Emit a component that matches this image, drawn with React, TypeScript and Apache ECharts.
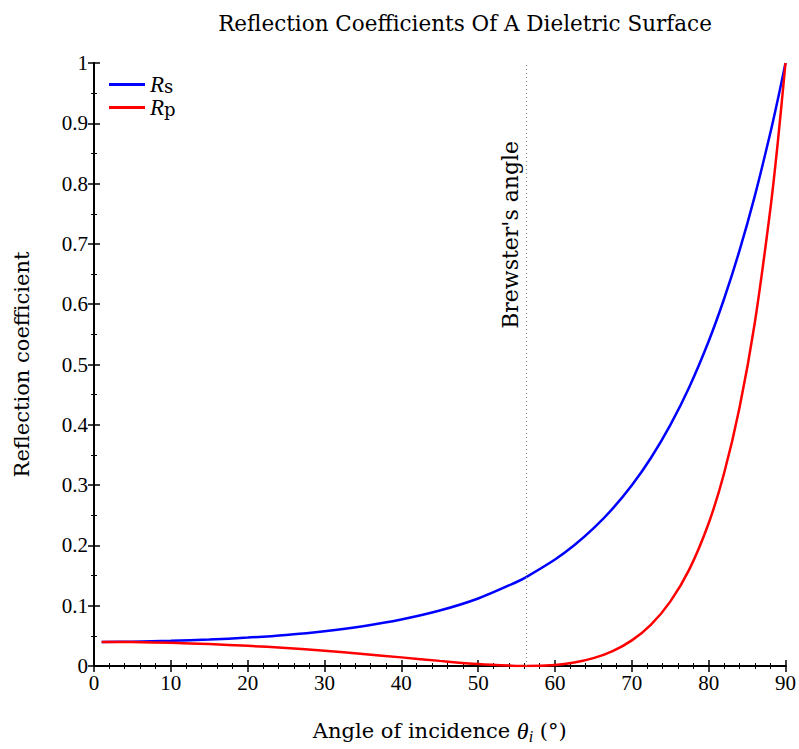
import React, { useEffect, useRef } from "react";
import * as echarts from "echarts";

const angles = [1, 5, 10, 15, 20, 25, 30, 35, 40, 45, 50, 55, 56.31, 60, 62.5, 65, 67.5, 70, 72.5, 75, 77.5, 80, 82, 84, 86, 88, 89, 90];
const rsValues = [0.04, 0.0404, 0.0417, 0.0438, 0.0471, 0.0516, 0.0578, 0.0661, 0.0772, 0.092, 0.112, 0.1393, 0.1479, 0.1766, 0.2002, 0.2281, 0.2609, 0.2996, 0.3453, 0.3994, 0.4632, 0.5386, 0.6086, 0.6884, 0.7793, 0.8826, 0.9395, 1.0];
const rpValues = [0.04, 0.0396, 0.0384, 0.0363, 0.0335, 0.0298, 0.0253, 0.02, 0.0143, 0.0085, 0.0033, 0.0002, 0.0, 0.0018, 0.0058, 0.013, 0.0247, 0.0425, 0.0688, 0.1068, 0.1607, 0.2368, 0.3193, 0.4273, 0.5688, 0.7548, 0.8689, 1.0];
const brewsterAngle = 56.31;
const xTicks = { min: 0, max: 90, interval: 10 };
const yTicks = { min: 0, max: 1, interval: 0.1 };

const serif = "DejaVu Serif";
const numFont = "Liberation Serif";

export default function App() {
  const ref = useRef<HTMLDivElement>(null);
  useEffect(() => {
    if (!ref.current) return;
    const chart = echarts.init(ref.current, null, { renderer: "svg" });
    const rs = angles.map((a, i) => [a, rsValues[i]]);
    const rp = angles.map((a, i) => [a, rpValues[i]]);
    const tickCommon = {
      axisLine: { show: true, lineStyle: { color: "#000", width: 2 } },
      axisTick: { show: true, inside: true, length: 6, lineStyle: { color: "#000", width: 1.5 } },
      minorTick: { show: true, length: 3, lineStyle: { color: "#000", width: 1 } },
      splitLine: { show: false },
    };
    const legendFmt = (name: string) => (name === "Rs" ? "{i|R}{s|s}" : "{i|R}{s|p}");
    chart.setOption({
      animation: false,
      backgroundColor: "#fff",
      title: {
        text: "Reflection Coefficients Of A Dieletric Surface",
        left: 460,
        top: 7,
        textAlign: "center",
        textStyle: { fontFamily: serif, fontSize: 21.5, fontWeight: "normal", color: "#000" },
      },
      legend: {
        orient: "vertical",
        left: 104,
        top: 68,
        itemWidth: 36,
        itemHeight: 3,
        itemGap: 0,
        icon: "rect",
        data: ["Rs", "Rp"],
        formatter: legendFmt,
        textStyle: {
          color: "#000",
          lineHeight: 22,
          rich: {
            i: { fontFamily: numFont, fontStyle: "italic", fontSize: 23, color: "#000", lineHeight: 22, verticalAlign: "middle" },
            s: { fontFamily: serif, fontSize: 18, color: "#000", lineHeight: 22, verticalAlign: "bottom" },
          },
        },
      },
      grid: { left: 94, right: 13, top: 63, bottom: 81, containLabel: false },
      xAxis: [
        {
          type: "value",
          ...xTicks,
          position: "bottom",
          ...tickCommon,
          minorTick: { ...tickCommon.minorTick, splitNumber: 5 },
          axisLabel: { fontFamily: numFont, fontSize: 21, color: "#000", margin: 6 },
          name: "Angle of incidence {it|θ}{sub|i} (°)",
          nameLocation: "middle",
          nameGap: 52,
          nameTextStyle: {
            fontFamily: serif,
            fontSize: 21,
            color: "#000",
            rich: {
              it: { fontFamily: numFont, fontStyle: "italic", fontSize: 24, color: "#000" },
              sub: { fontFamily: numFont, fontStyle: "italic", fontSize: 16, color: "#000", padding: [10, 0, 0, 0] },
            },
          },
        },
        {
          type: "value",
          ...xTicks,
          position: "top",
          ...tickCommon,
          minorTick: { ...tickCommon.minorTick, splitNumber: 5 },
          axisLabel: { show: false },
        },
      ],
      yAxis: [
        {
          type: "value",
          ...yTicks,
          position: "left",
          ...tickCommon,
          minorTick: { ...tickCommon.minorTick, splitNumber: 2 },
          axisLabel: {
            fontFamily: numFont,
            fontSize: 21,
            color: "#000",
            margin: 6,
            formatter: (v: number) => String(Math.round(v * 10) / 10),
          },
          name: "Reflection coefficient",
          nameLocation: "middle",
          nameGap: 62,
          nameTextStyle: { fontFamily: serif, fontSize: 21, color: "#000" },
        },
        {
          type: "value",
          ...yTicks,
          position: "right",
          ...tickCommon,
          minorTick: { ...tickCommon.minorTick, splitNumber: 2 },
          axisLabel: { show: false },
        },
      ],
      series: [
        {
          name: "Rs",
          type: "line",
          data: rs,
          smooth: 0.3,
          showSymbol: false,
          symbol: "none",
          color: "#0000ff",
          lineStyle: { color: "#0000ff", width: 2.5 },
          z: 3,
        },
        {
          name: "Rp",
          type: "line",
          data: rp,
          smooth: 0.3,
          showSymbol: false,
          symbol: "none",
          color: "#ff0000",
          lineStyle: { color: "#ff0000", width: 2.5 },
          z: 3,
          markLine: {
            silent: true,
            symbol: "none",
            animation: false,
            lineStyle: { color: "#888", type: [1, 3], width: 1.2 },
            label: { show: false },
            data: [
              [{ coord: [brewsterAngle, 0] }, { coord: [brewsterAngle, 1] }],
              [
                {
                  coord: [brewsterAngle, 0.555],
                  lineStyle: { color: "rgba(0,0,0,0)", width: 0.01 },
                  label: {
                    show: true,
                    position: "insideMiddleTop",
                    formatter: "Brewster's angle",
                    fontFamily: serif,
                    fontSize: 22,
                    color: "#000",
                    distance: 5,
                  },
                },
                { coord: [brewsterAngle, 0.875] },
              ],
            ],
          },
        },
      ],
    });
    return () => chart.dispose();
  }, []);
  return (
    <div
      ref={ref}
      style={{ position: "fixed", left: 0, top: 0, width: 799, height: 749 }}
    />
  );
}
